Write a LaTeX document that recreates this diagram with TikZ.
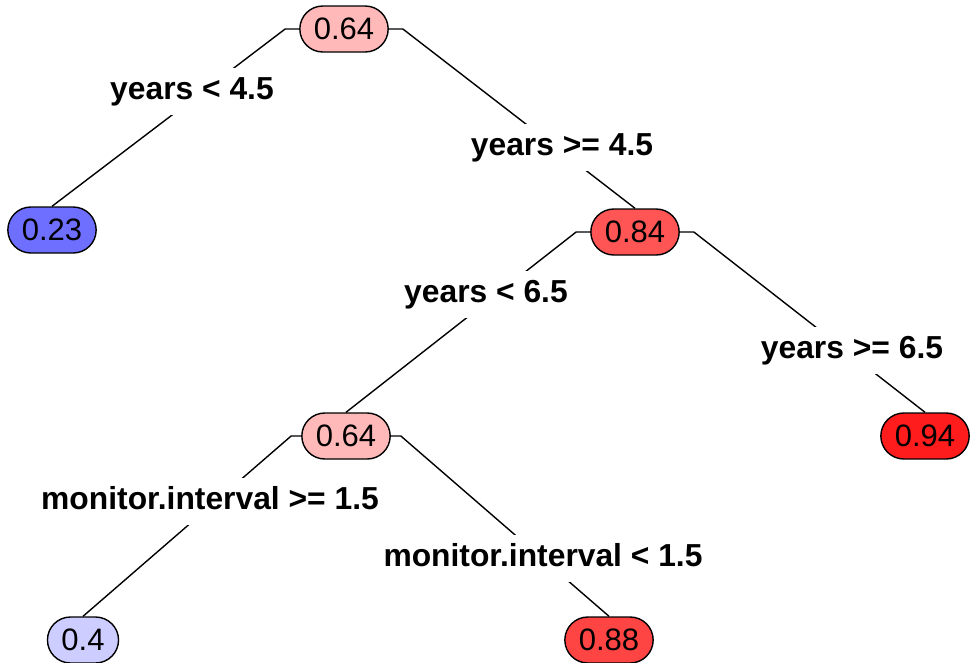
\documentclass[tikz,border=0pt]{standalone}
\usepackage{fontspec}
\setmainfont{Liberation Sans}
\usepackage{xcolor}
\usetikzlibrary{positioning}

\definecolor{pinkmid}{RGB}{255,185,185}
\definecolor{redmid}{RGB}{255,85,85}
\definecolor{redhigh}{RGB}{255,68,68}
\definecolor{redtop}{RGB}{255,28,28}
\definecolor{bluelow}{RGB}{110,110,255}
\definecolor{bluepale}{RGB}{205,205,255}

\begin{document}
\begin{tikzpicture}[
    x=1pt, y=-1pt,
    leaf/.style={rectangle, draw, line width=1.4pt, rounded corners=23pt, minimum height=46pt, inner xsep=14pt, font=\fontsize{31}{36}\selectfont},
    cond/.style={fill=white, inner xsep=2pt, inner ysep=9pt, text height=22pt, text depth=7pt, anchor=base, font=\fontsize{31.8}{36}\selectfont\bfseries},
    line/.style={draw, line width=1.4pt},
]
\useasboundingbox (0,0) rectangle (973,662);

\node [leaf, fill=pinkmid] (n1) at (344,29) {0.64};
\node [leaf, fill=bluelow] (n2) at (52,230) {0.23};
\node [leaf, fill=redmid] (n3) at (635,232) {0.84};
\node [leaf, fill=pinkmid] (n6) at (346,436) {0.64};
\node [leaf, fill=redtop] (n7) at (925,436) {0.94};
\node [leaf, fill=bluepale] (n12) at (83,640) {0.4};
\node [leaf, fill=redhigh] (n13) at (609,640) {0.88};

\path [line] (n1.west) -- ++(-14,0) -- (n2.north);
\path [line] (n1.east) -- ++(14,0) -- (n3.north);
\path [line] (n3.west) -- ++(-14,0) -- (n6.north);
\path [line] (n3.east) -- ++(14,0) -- (n7.north);
\path [line] (n6.west) -- ++(-10,0) -- (n12.north);
\path [line] (n6.east) -- ++(10,0) -- (n13.north);

\node [cond] (s2) at (192,99) {years < 4.5};
\node [cond] (s3) at (562,155) {years >= 4.5};
\node [cond] (s6) at (486,302) {years < 6.5};
\node [cond] (s7) at (852,358) {years >= 6.5};
\node [cond] (s12) at (210,509) {monitor.interval >= 1.5};
\node [cond] (s13) at (543,566) {monitor.interval < 1.5};
\end{tikzpicture}
\end{document}
